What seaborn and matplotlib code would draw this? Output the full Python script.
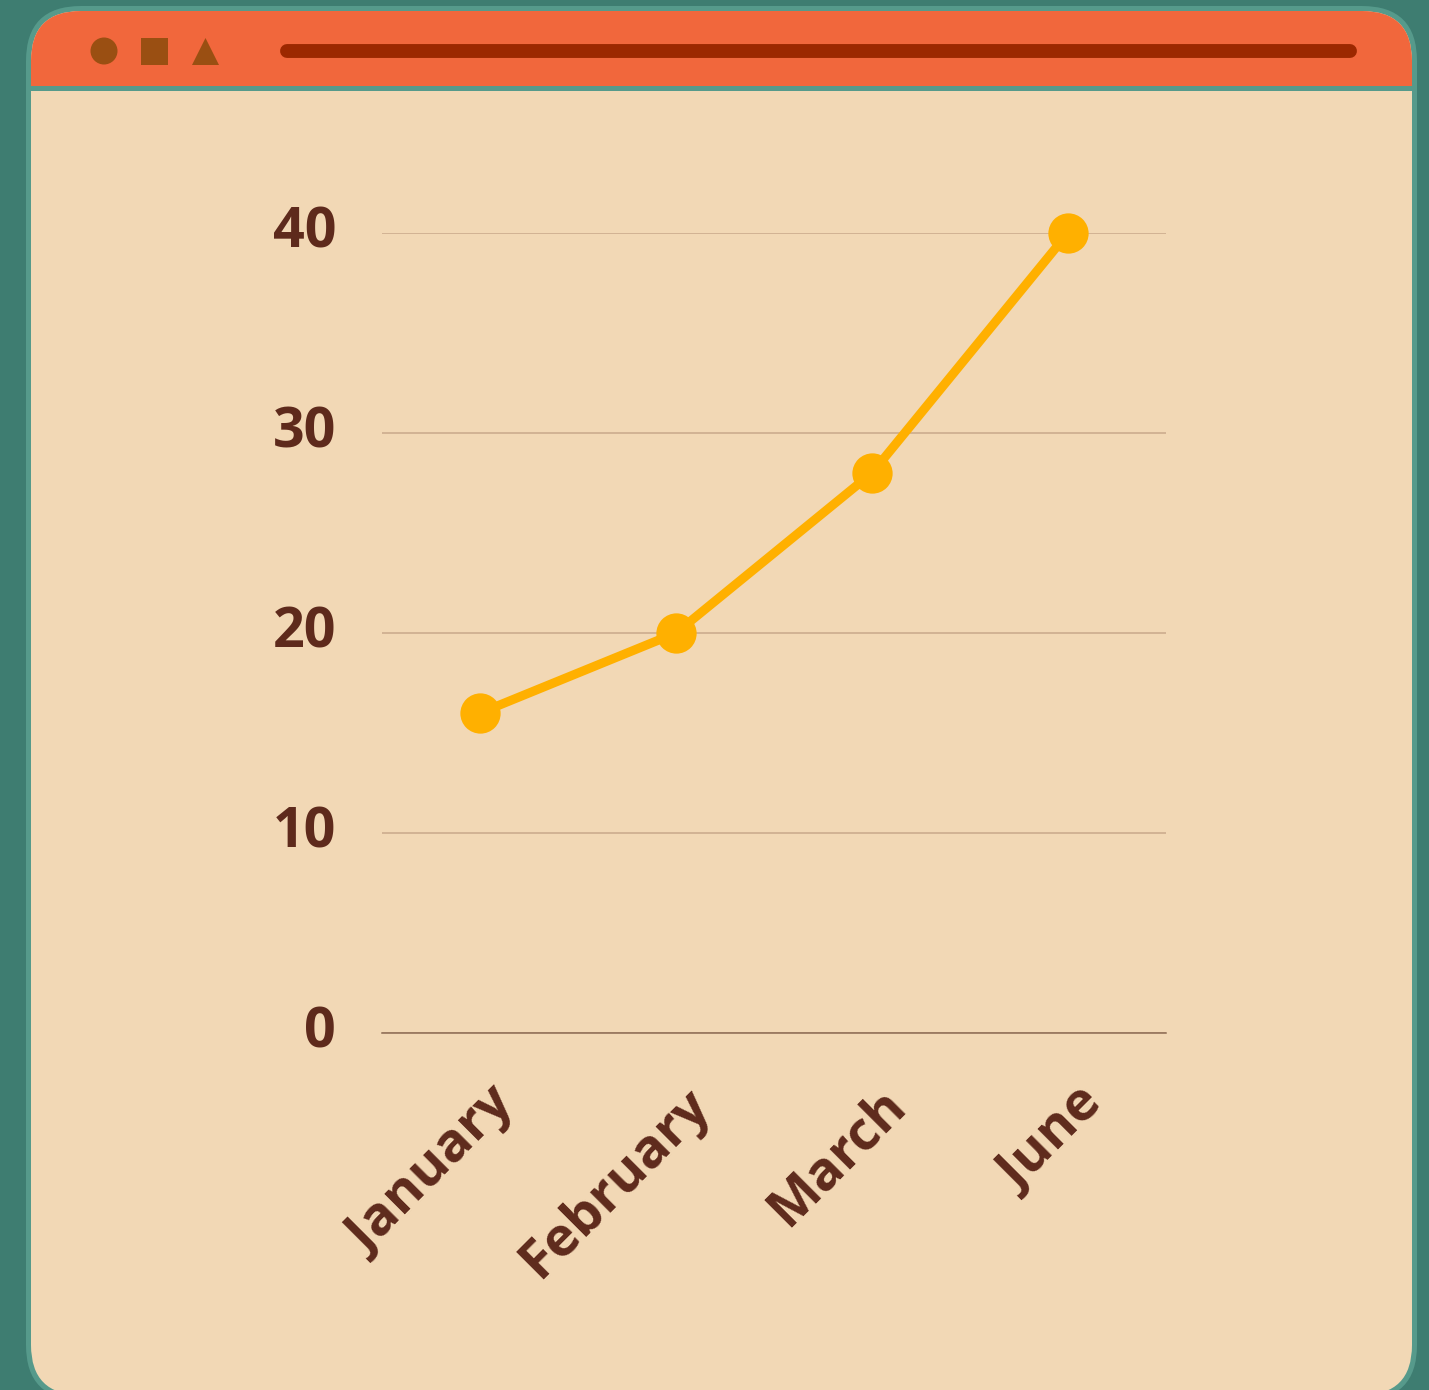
import matplotlib
matplotlib.use("Agg")
import matplotlib.pyplot as plt
import matplotlib.patches as mpatches
import matplotlib.transforms as mtransforms
import seaborn as sns
import pandas as pd

months = ["January", "February", "March", "June"]
values = [16, 20, 28, 40]
yticks = [0, 10, 20, 30, 40]

BG = "#3E7D71"
BORDER = "#569A8B"
ORANGE = "#F1673C"
BEIGE = "#F2D8B5"
ICON = "#9A4F12"
BAR = "#9C2800"
TEXT = "#5E2A1C"
GRID = "#C9A98A"
ZERO = "#8C6A52"
LINE = "#FFB000"

sns.set_theme(style="white")
plt.rcParams["font.family"] = ["Open Sans", "DejaVu Sans"]

W, H = 1429, 1390
fig = plt.figure(figsize=(W / 100, H / 100), dpi=100, facecolor=BG)

# Background/decor axes in pixel coordinates
bg = fig.add_axes([0, 0, 1, 1])
bg.set_xlim(0, W)
bg.set_ylim(H, 0)
bg.axis("off")
bg.set_facecolor(BG)

outer = mpatches.FancyBboxPatch((26 + 55, 6 + 55), 1417 - 26 - 110, 1400 - 6 - 110,
                                boxstyle="round,pad=55", fc=BORDER, ec="none")
bg.add_patch(outer)
inner = mpatches.FancyBboxPatch((31 + 50, 11 + 50), 1412 - 31 - 100, 1395 - 11 - 100,
                                boxstyle="round,pad=50", fc=BEIGE, ec="none")
bg.add_patch(inner)
header = mpatches.Rectangle((31, 11), 1412 - 31, 86 - 11, fc=ORANGE, ec="none")
bg.add_patch(header)
header.set_clip_path(inner)
sep = mpatches.Rectangle((31, 86), 1412 - 31, 5, fc=BORDER, ec="none")
bg.add_patch(sep)
sep.set_clip_path(inner)

bg.add_patch(mpatches.Circle((104, 51), 13.5, fc=ICON, ec="none"))
bg.add_patch(mpatches.Rectangle((141, 38), 27, 27, fc=ICON, ec="none"))
bg.add_patch(mpatches.Polygon([(192, 65), (219, 65), (205.5, 38)], closed=True, fc=ICON, ec="none"))
bg.plot([287, 1350], [51, 51], color=BAR, lw=10, solid_capstyle="round")

# Main chart axes
left = 382 / W
width = (1166 - 382) / W
bottom = (H - 1033) / H
height = (1033 - 233) / H
ax = fig.add_axes([left, bottom, width, height])
ax.patch.set_alpha(0)

df = pd.DataFrame({"month": months, "value": values})
sns.lineplot(data=df, x="month", y="value", ax=ax, color=LINE, lw=6.5,
             marker="o", markersize=29, markeredgewidth=0, clip_on=False, zorder=5)

ax.set_xlim(-0.5, len(months) - 0.5)
ax.set_ylim(0, 40)
ax.set_yticks(yticks)
ax.set_yticklabels([str(v) for v in yticks])
ax.set_xlabel("")
ax.set_ylabel("")
ax.yaxis.grid(True, color=GRID, lw=1.1)
ax.xaxis.grid(False)
for s in ["top", "right", "left"]:
    ax.spines[s].set_visible(False)
ax.spines["bottom"].set_color(ZERO)
ax.spines["bottom"].set_linewidth(1.1)
ax.spines["bottom"].set_zorder(3)

ax.tick_params(axis="y", length=0, pad=33, labelsize=40, labelcolor=TEXT)
ax.tick_params(axis="x", length=0, pad=0, labelsize=39, labelcolor=TEXT)
yoff = mtransforms.ScaledTranslation(0, 6 / 100, fig.dpi_scale_trans)
for t in ax.get_yticklabels():
    t.set_fontweight("bold")
    t.set_transform(t.get_transform() + yoff)
offset = mtransforms.ScaledTranslation(26 / 100, -64 / 100, fig.dpi_scale_trans)
for t in ax.get_xticklabels():
    t.set_fontweight("bold")
    t.set_rotation(45)
    t.set_ha("right")
    t.set_va("center")
    t.set_rotation_mode("anchor")
    t.set_transform(t.get_transform() + offset)

fig.savefig("out.png", dpi=100, facecolor=BG)
